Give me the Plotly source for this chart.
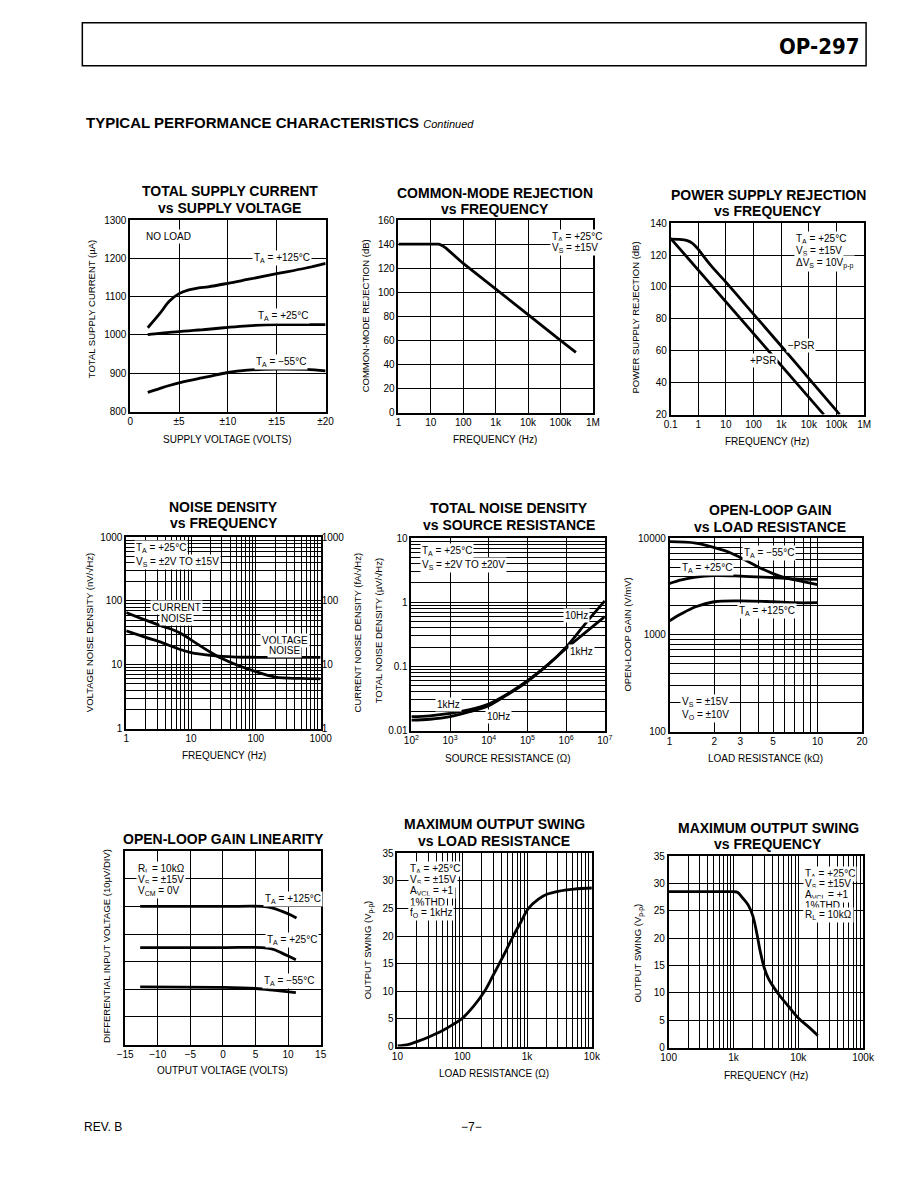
import plotly.graph_objects as go

W, H = 918, 1188
FONT = "Liberation Sans, Arial, Helvetica, sans-serif"

# ---------------- data ----------------
supply_v = [1.8, 3, 4, 5, 6, 7, 8, 10, 12, 15, 18, 20]
supply_i_125 = [1019, 1055, 1088, 1108, 1118, 1123, 1126, 1135, 1145, 1160, 1175, 1187]
supply_i_25 = [1001, 1004, 1007, 1009, 1011, 1013, 1015, 1020, 1024, 1027, 1027, 1027]
supply_i_m55 = [850, 860, 868, 875, 881, 886, 891, 902, 908, 911, 910, 906]
supply_ticks = [0, 5, 10, 15, 20]
supply_ticktext = ["0", "±5", "±10", "±15", "±20"]

cmr_freq = [1, 18, 23, 30, 100, 1e3, 1e4, 1e5, 3e5]
cmr_db = [140, 140, 138.8, 136.5, 124, 103, 81.5, 60, 50]
cmr_ticks = [1, 10, 100, 1e3, 1e4, 1e5, 1e6]
cmr_ticktext = ["1", "10", "100", "1k", "10k", "100k", "1M"]

psr_freq_pos = [0.1, 1, 10, 100, 1e3, 1e4, 3.5e4]
psr_pos = [130.5, 110.5, 90.7, 70.8, 50.9, 31, 20]
psr_freq_neg = [0.1, 0.2, 0.4, 0.6, 0.8, 1, 3, 10, 100, 1e3, 1e4, 1e5, 1.3e5]
psr_neg = [130, 129.8, 129, 127.5, 125.5, 123.5, 113, 103, 83, 63, 42.7, 22.4, 20]
psr_ticks = [0.1, 1, 10, 100, 1e3, 1e4, 1e5, 1e6]
psr_ticktext = ["0.1", "1", "10", "100", "1k", "10k", "100k", "1M"]

noise_freq = [1, 2, 3.65, 5, 7, 10, 20, 30, 50, 100, 200, 500, 1000]
current_noise = [66, 50, 40, 36, 31, 24.5, 15.7, 12.5, 10, 7.8, 6.4, 6.1, 6]
voltage_noise = [34, 26.9, 22, 19.5, 17.2, 15.5, 14, 13.5, 13.2, 13.1, 13.1, 13.1, 13.1]
noise_ticks = [1, 10, 100, 1000]
noise_ticktext = ["1", "10", "100", "1000"]

source_r = [1e2, 3e2, 1e3, 3e3, 1e4, 3e4, 1e5, 3e5, 1e6, 3e6, 1e7]
total_noise_10hz = [0.0165, 0.017, 0.0185, 0.021, 0.026, 0.037, 0.06, 0.1, 0.2, 0.45, 1.05]
total_noise_1khz = [0.0145, 0.015, 0.0165, 0.0195, 0.0245, 0.036, 0.058, 0.1, 0.19, 0.33, 0.6]
rs_ticks = [1e2, 1e3, 1e4, 1e5, 1e6, 1e7]
rs_ticktext = ["10<sup>2</sup>", "10<sup>3</sup>", "10<sup>4</sup>", "10<sup>5</sup>", "10<sup>6</sup>", "10<sup>7</sup>"]
tn_ticks = [0.01, 0.1, 1, 10]
tn_ticktext = ["0.01", "0.1", "1", "10"]

olg_r = [1, 1.2, 1.5, 2, 3, 5, 7, 10]
olg_125 = [1400, 1650, 1950, 2200, 2250, 2200, 2150, 2150]
olg_25 = [3400, 3700, 3950, 4100, 4050, 3900, 3800, 3750]
olg_r_m55 = [1, 1.5, 2, 2.5, 3, 4, 5, 6, 8, 10]
olg_m55 = [9200, 8900, 8000, 7200, 6300, 5000, 4300, 3900, 3550, 3300]
olg_xticks = [1, 2, 3, 5, 10, 20]
olg_xtext = ["1", "2", "3", "5", "10", "20"]
olg_yticks = [100, 1000, 10000]
olg_ytext = ["100", "1000", "10000"]

lin_vout_125 = [-12.7, 0, 6, 7.5, 9, 10.5, 11.3]
lin_125 = [50, 50, 50, 49.5, 48.3, 46.8, 45.8]
lin_vout_25 = [-12.7, 0, 6, 7.5, 9, 10.5, 11.2]
lin_25 = [35.1, 35.1, 35.1, 34.6, 33.2, 31.5, 30.7]
lin_vout_m55 = [-12.7, 0, 5, 8, 11.2]
lin_m55 = [20.9, 20.7, 20.3, 19.6, 18.8]

swing_rl = [10, 15, 20, 30, 50, 70, 100, 150, 221, 300, 373, 480, 612, 800, 1050, 1500, 2070, 3000, 5300, 10000]
swing_rl_v = [0.1, 0.4, 0.9, 1.7, 2.9, 3.9, 5.1, 7.3, 10, 12.9, 15, 17.5, 20, 22.5, 25, 26.7, 27.6, 28.1, 28.5, 28.7]
swing_rl_ticks = [10, 100, 1000, 10000]
swing_rl_text = ["10", "100", "1k", "10k"]

swing_f = [100, 500, 1000, 1150, 1400, 1700, 2000, 2300, 2600, 3000, 3500, 4200, 5000, 7000, 10000, 15000, 20000]
swing_f_v = [28.5, 28.5, 28.5, 28.4, 27.3, 26, 24, 20.8, 17.5, 14.5, 12.5, 11, 9.7, 7.6, 5.4, 3.6, 2.2]
swing_f_ticks = [100, 1000, 10000, 100000]
swing_f_text = ["100", "1k", "10k", "100k"]


# ---------------- helpers ----------------
# the photographed page maps figure px -> picture px roughly as
# X = 0.981*x + 16.5 and Y = 0.993*y + 13.2 ; place things in picture px
AX, BX, AY, BY = 0.981, 16.5, 0.993, 13.2


def PX(x):
    return (x - BX) / AX / W


def PY(y):
    return 1 - (y - BY) / AY / H


def log_minor(lo, hi):
    return [k * 10 ** e for e in range(lo, hi) for k in range(2, 10)]


TICKFONT = dict(family=FONT, size=10, color="black")


def axis(dom, typ, rng, anchor, tickvals=None, ticktext=None, dtick=None,
         minor_vals=None, labels=True):
    d = dict(domain=dom, type=typ, range=rng, anchor=anchor,
             showline=True, linecolor="black", linewidth=1.5, mirror=True,
             showgrid=True, gridcolor="black", gridwidth=1,
             ticks="", zeroline=False, fixedrange=True,
             showticklabels=labels, tickfont=TICKFONT)
    if tickvals is not None:
        d.update(tickmode="array", tickvals=tickvals,
                 ticktext=ticktext if ticktext is not None else [str(v) for v in tickvals])
    if dtick is not None:
        d.update(dtick=dtick, tick0=rng[0])
    if minor_vals is not None:
        d["minor"] = dict(tickmode="array", tickvals=minor_vals, showgrid=True,
                          gridcolor="black", gridwidth=0.6, ticks="")
    return d


# plot-area rectangles in picture pixels: (x0, x1, y0(top), y1(bottom))
boxes = [
    (131, 327, 220, 412),
    (400, 595, 220, 413),
    (673, 867, 223, 415),
    (127, 322, 538, 730),
    (413, 607, 539, 732),
    (672, 865, 539, 733),
    (126, 322, 853, 1047),
    (399, 594, 855, 1049),
    (671, 866, 858, 1050),
]


def doms(i):
    x0, x1, y0, y1 = boxes[i]
    return [PX(x0), PX(x1)], [PY(y1), PY(y0)]


fig = go.Figure()
LW = 2.8


def add(x, y, n, shape="spline"):
    ax = "" if n == 1 else str(n)
    fig.add_trace(go.Scatter(x=x, y=y, mode="lines",
                             line=dict(color="black", width=LW, shape=shape),
                             xaxis="x" + ax, yaxis="y" + ax,
                             showlegend=False, hoverinfo="skip"))


add(supply_v, supply_i_125, 1)
add(supply_v, supply_i_25, 1)
add(supply_v, supply_i_m55, 1)
add(cmr_freq, cmr_db, 2, "linear")
add(psr_freq_pos, psr_pos, 3, "linear")
add(psr_freq_neg, psr_neg, 3)
add(noise_freq, current_noise, 4)
add(noise_freq, voltage_noise, 4)
add(source_r, total_noise_10hz, 5)
add(source_r, total_noise_1khz, 5)
add(olg_r, olg_125, 6)
add(olg_r, olg_25, 6)
add(olg_r_m55, olg_m55, 6)
add(lin_vout_125, lin_125, 7)
add(lin_vout_25, lin_25, 7)
add(lin_vout_m55, lin_m55, 7)
add(swing_rl, swing_rl_v, 8)
add(swing_f, swing_f_v, 9)

lay = {}
specs = [
    (("linear", [0, 20], supply_ticks, supply_ticktext, None, None),
     ("linear", [800, 1300], None, None, 100, None)),
    (("log", [0, 6], cmr_ticks, cmr_ticktext, None, None),
     ("linear", [0, 160], None, None, 20, None)),
    (("log", [-1, 6], psr_ticks, psr_ticktext, None, None),
     ("linear", [20, 140], None, None, 20, None)),
    (("log", [0, 3], noise_ticks, noise_ticktext, None, log_minor(0, 3)),
     ("log", [0, 3], noise_ticks, noise_ticktext, None, log_minor(0, 3))),
    (("log", [2, 7], rs_ticks, rs_ticktext, None, None),
     ("log", [-2, 1], tn_ticks, tn_ticktext, None, log_minor(-2, 1))),
    (("log", [0, 1.30103], olg_xticks, olg_xtext, None, [4, 6, 7, 8, 9]),
     ("log", [2, 4], olg_yticks, olg_ytext, None, log_minor(2, 4))),
    (("linear", [-15, 15], None, None, 5, None),
     ("linear", [0, 70], None, None, 10, None)),
    (("log", [1, 4], swing_rl_ticks, swing_rl_text, None, log_minor(1, 4)),
     ("linear", [0, 35], None, None, 5, None)),
    (("log", [2, 5], swing_f_ticks, swing_f_text, None, log_minor(2, 5)),
     ("linear", [0, 35], None, None, 5, None)),
]
for i, (xs, ys) in enumerate(specs):
    n = i + 1
    sfx = "" if n == 1 else str(n)
    xd, yd = doms(i)
    lay["xaxis" + sfx] = axis(xd, xs[0], xs[1], "y" + sfx, xs[2], xs[3], xs[4], xs[5])
    lay["yaxis" + sfx] = axis(yd, ys[0], ys[1], "x" + sfx, ys[2], ys[3], ys[4], ys[5],
                              labels=(n != 7))

# right-hand current-noise axis on the noise-density chart
lay["yaxis10"] = dict(type="log", range=[0, 3], overlaying="y4", side="right",
                      anchor="x4", showgrid=False, showline=False, zeroline=False,
                      ticks="", tickmode="array", tickvals=noise_ticks,
                      ticktext=noise_ticktext, fixedrange=True, tickfont=TICKFONT)
fig.add_trace(go.Scatter(x=[1], y=[1], mode="markers", marker=dict(opacity=0),
                         xaxis="x4", yaxis="y10", showlegend=False, hoverinfo="skip"))

ann = []


def txt(x, y, s, size=9, xanchor="left", bold=False, angle=0, bg=True, family=FONT):
    ann.append(dict(x=PX(x), y=PY(y), xref="paper", yref="paper",
                    text=("<b>%s</b>" % s) if bold else s,
                    showarrow=False, xanchor=xanchor, yanchor="middle", textangle=angle,
                    font=dict(family=family, size=size, color="black"),
                    bgcolor="white" if bg else None, borderpad=1))


# chart titles
titles = [
    ((231, 191), "TOTAL SUPPLY CURRENT"), ((231, 208), "vs SUPPLY VOLTAGE"),
    ((497, 193), "COMMON-MODE REJECTION"), ((497, 209), "vs FREQUENCY"),
    ((771, 195), "POWER SUPPLY REJECTION"), ((771, 211), "vs FREQUENCY"),
    ((225, 508), "NOISE DENSITY"), ((225, 524), "vs FREQUENCY"),
    ((511, 509), "TOTAL NOISE DENSITY"), ((511, 526), "vs SOURCE RESISTANCE"),
    ((773, 511), "OPEN-LOOP GAIN"), ((773, 528), "vs LOAD RESISTANCE"),
    ((225, 841), "OPEN-LOOP GAIN LINEARITY"),
    ((496, 826), "MAXIMUM OUTPUT SWING"), ((496, 843), "vs LOAD RESISTANCE"),
    ((771, 830), "MAXIMUM OUTPUT SWING"), ((771, 846), "vs FREQUENCY"),
]
for (x, y), s in titles:
    txt(x, y, s, size=14, xanchor="center", bold=True, bg=False)

# axis titles
xtitles = [
    ((229, 440), "SUPPLY VOLTAGE (VOLTS)"), ((497, 440), "FREQUENCY (Hz)"),
    ((770, 442), "FREQUENCY (Hz)"), ((225, 757), "FREQUENCY (Hz)"),
    ((510, 760), "SOURCE RESISTANCE (Ω)"), ((768, 760), "LOAD RESISTANCE (kΩ)"),
    ((224, 1073), "OUTPUT VOLTAGE (VOLTS)"), ((496, 1076), "LOAD RESISTANCE (Ω)"),
    ((769, 1078), "FREQUENCY (Hz)"),
]
for (x, y), s in xtitles:
    txt(x, y, s, size=10, xanchor="center", bg=False)

ytitles = [
    ((93, 309), "TOTAL SUPPLY CURRENT (µA)"), ((367, 316), "COMMON-MODE REJECTION (dB)"),
    ((638, 318), "POWER SUPPLY REJECTION (dB)"), ((91, 634), "VOLTAGE NOISE DENSITY (nV/√Hz)"),
    ((359, 634), "CURRENT NOISE DENSITY (fA/√Hz)"), ((380, 632), "TOTAL NOISE DENSITY (µV/√Hz)"),
    ((630, 636), "OPEN-LOOP GAIN (V/mV)"), ((108, 948), "DIFFERENTIAL INPUT VOLTAGE (10µV/DIV)"),
    ((370, 952), "OUTPUT SWING (V<sub>p-p</sub>)"), ((641, 955), "OUTPUT SWING (V<sub>p-p</sub>)"),
]
for (x, y), s in ytitles:
    txt(x, y, s, size=9.5, xanchor="center", angle=-90, bg=False)

# in-chart labels
labels = [
    (145, 236, "NO LOAD"), (253, 258, "T<sub>A</sub> = +125°C"),
    (257, 316, "T<sub>A</sub> = +25°C"), (255, 362, "T<sub>A</sub> = −55°C"),
    (552, 237, "T<sub>A</sub> = +25°C"), (552, 248, "V<sub>S</sub> = ±15V"),
    (797, 239, "T<sub>A</sub> = +25°C"), (797, 251, "V<sub>S</sub> = ±15V"),
    (797, 263, "ΔV<sub>S</sub> = 10V<sub>p-p</sub>"),
    (789, 346, "−PSR"), (751, 361, "+PSR"),
    (135, 549, "T<sub>A</sub> = +25°C"), (135, 563, "V<sub>S</sub> = ±2V TO ±15V"),
    (422, 552, "T<sub>A</sub> = +25°C"), (422, 566, "V<sub>S</sub> = ±2V TO ±20V"),
    (565, 617, "10Hz"), (570, 653, "1kHz"), (437, 706, "1kHz"), (487, 718, "10Hz"),
    (745, 554, "T<sub>A</sub> = −55°C"), (682, 569, "T<sub>A</sub> = +25°C"),
    (740, 612, "T<sub>A</sub> = +125°C"), (682, 703, "V<sub>S</sub> = ±15V"),
    (682, 716, "V<sub>O</sub> = ±10V"),
    (137, 871, "R<sub>L</sub> = 10kΩ"), (137, 882, "V<sub>S</sub> = ±15V"),
    (137, 893, "V<sub>CM</sub> = 0V"),
    (264, 901, "T<sub>A</sub> = +125°C"), (266, 942, "T<sub>A</sub> = +25°C"),
    (263, 983, "T<sub>A</sub> = −55°C"),
    (410, 871, "T<sub>A</sub> = +25°C"), (410, 882, "V<sub>S</sub> = ±15V"),
    (410, 893, "A<sub>VCL</sub> = +1"), (410, 904, "1%THD"), (410, 915, "f<sub>O</sub> = 1kHz"),
    (806, 876, "T<sub>A</sub> = +25°C"), (806, 886, "V<sub>S</sub> = ±15V"),
    (806, 897, "A<sub>VCL</sub> = +1"), (806, 907, "1%THD"), (806, 917, "R<sub>L</sub> = 10kΩ"),
]
for x, y, s in labels:
    txt(x, y, s, size=10)

for x, y, s in [(177, 609, "CURRENT"), (177, 620, "NOISE"), (286, 642, "VOLTAGE"), (286, 652, "NOISE")]:
    txt(x, y, s, size=10, xanchor="center")

# page header / footer
txt(864, 46, "OP-297", size=22, xanchor="right", bold=True, bg=False,
    family="Liberation Sans Narrow, DejaVu Sans Condensed, Arial Narrow, sans-serif")
txt(85, 122, "TYPICAL PERFORMANCE CHARACTERISTICS <i><span style='font-size:11px;font-weight:normal'>Continued</span></i>",
    size=15, bold=True, bg=False)
txt(83, 1130, "REV. B", size=12, bg=False)
txt(473, 1130, "−7−", size=12, xanchor="center", bg=False)

shapes = [dict(type="rect", xref="paper", yref="paper", x0=PX(83), x1=PX(869),
               y0=PY(65), y1=PY(22), line=dict(color="black", width=1.5))]

fig.update_layout(**lay)
fig.update_layout(width=W, height=H, margin=dict(l=0, r=0, t=0, b=0),
                  paper_bgcolor="white", plot_bgcolor="white",
                  annotations=ann, shapes=shapes, showlegend=False,
                  font=dict(family=FONT, color="black"))
fig.write_html("out.html")
